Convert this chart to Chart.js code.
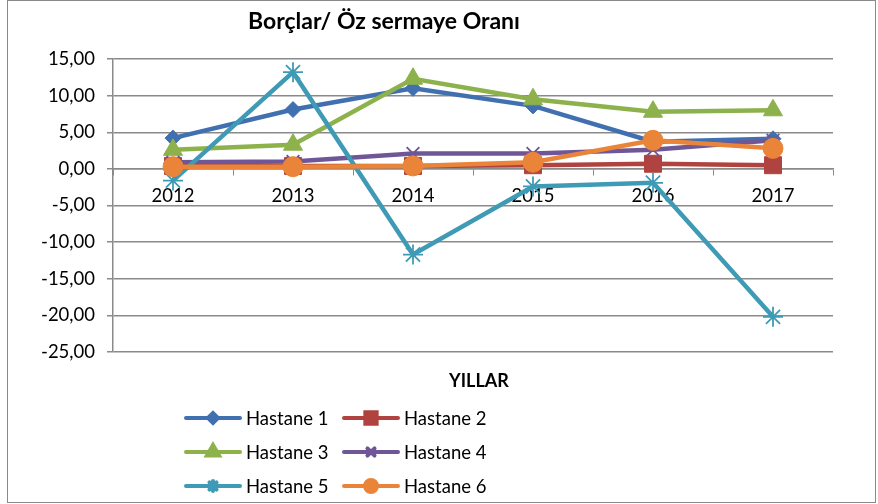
<!DOCTYPE html>
<html>
<head>
<meta charset="utf-8">
<script src="https://cdn.jsdelivr.net/npm/chart.js@4.4.0/dist/chart.umd.min.js"></script>
<style>
  html, body { margin: 0; padding: 0; background: #fff; }
  #wrap { width: 878px; height: 504px; position: relative; }
</style>
</head>
<body>
<div id="wrap"><canvas id="chart"></canvas></div>
<script>
    // Data
    const years = ["2012", "2013", "2014", "2015", "2016", "2017"];
    const seriesNames = ["Hastane 1", "Hastane 2", "Hastane 3", "Hastane 4", "Hastane 5", "Hastane 6"];
    const hastane1 = [4.2, 8.1, 11.0, 8.6, 3.7, 4.1];
    const hastane2 = [0.4, 0.4, 0.4, 0.5, 0.7, 0.5];
    const hastane3 = [2.6, 3.3, 12.3, 9.5, 7.8, 8.0];
    const hastane4 = [0.9, 1.0, 2.1, 2.1, 2.6, 3.9];
    const hastane5 = [-1.6, 13.2, -11.7, -2.4, -1.9, -20.2];
    const hastane6 = [0.3, 0.3, 0.4, 0.9, 3.9, 2.8];
    const chartTitle = "Borçlar/ Öz sermaye Oranı";
    const xTitle = "YILLAR";

    // Styles
    const FONT = "Lato, 'Open Sans', sans-serif";
    const colors = ["#4170b0", "#b0433f", "#8db24c", "#6f5696", "#3f9bb5", "#ea8439"];
    const styles = ["rectRot", "rect", "triangle", "crossRot", "star", "circle"];
    const radii = [8, 12, 11, 9, 10, 10];
    const legendRadii = [5, 8, 7, 5, 5, 6];
    const allSeries = [hastane1, hastane2, hastane3, hastane4, hastane5, hastane6];

    function fmt(v) {
      return v.toFixed(2).replace('.', ',');
    }

    const datasets = allSeries.map((data, i) => ({
      label: seriesNames[i],
      data: data,
      borderColor: colors[i],
      backgroundColor: colors[i],
      pointBackgroundColor: colors[i],
      pointBorderColor: colors[i],
      borderWidth: 4.5,
      pointStyle: styles[i],
      pointRadius: radii[i],
      pointBorderWidth: (styles[i] === "star" || styles[i] === "crossRot") ? 1.8 : 1,
      tension: 0,
      order: 6 - i
    }));

    // ===== CUSTOM DRAWING: border, title, axis title, legend ===== //
    const decorPlugin = {
      id: "decor",
      afterDraw(chart) {
        const ctx = chart.ctx;
        ctx.save();
        ctx.strokeStyle = "#8a8a8a";
        ctx.lineWidth = 1;
        ctx.strokeRect(7.5, 0.5, 868, 502);

        ctx.fillStyle = "#000";
        ctx.textAlign = "center";
        ctx.textBaseline = "middle";
        ctx.font = "bold 23px " + FONT;
        ctx.fillText(chartTitle, 384, 22);
        ctx.font = "bold 18px " + FONT;
        ctx.fillText(xTitle, 479, 381);

        chart.data.datasets.forEach((ds, i) => {
          const col = i % 2, row = Math.floor(i / 2);
          const x0 = 186 + col * 158;
          const y = 418 + row * 34;
          ctx.strokeStyle = ds.borderColor;
          ctx.lineWidth = 4;
          ctx.lineCap = "round";
          ctx.beginPath();
          ctx.moveTo(x0, y);
          ctx.lineTo(x0 + 54, y);
          ctx.stroke();
          ctx.fillStyle = ds.pointBackgroundColor;
          ctx.strokeStyle = ds.pointBorderColor;
          Chart.helpers.drawPoint(ctx, {
            pointStyle: ds.pointStyle,
            radius: legendRadii[i],
            borderWidth: ds.pointBorderWidth,
            rotation: 0
          }, x0 + 27, y);
          ctx.fillStyle = "#000";
          ctx.textAlign = "left";
          ctx.font = "18.5px " + FONT;
          ctx.fillText(ds.label, x0 + 60, y + 1);
        });
        ctx.restore();
      }
    };

    const chart = new Chart(document.getElementById("chart"), {
      type: "line",
      data: { labels: years, datasets: datasets },
      plugins: [decorPlugin],
      options: {
        responsive: true,
        maintainAspectRatio: false,
        animation: false,
        layout: { padding: { top: 59, bottom: 152, left: 0, right: 45 } },
        plugins: {
          legend: { display: false },
          title: { display: false },
          tooltip: { enabled: false }
        },
        scales: {
          x: {
            position: { y: 0 },
            offset: true,
            grid: { offset: true, drawOnChartArea: false, drawTicks: true, tickLength: 6, color: "#8a8a8a" },
            border: { color: "#8a8a8a", width: 1.5 },
            ticks: { color: "#000", font: { family: FONT, size: 18.5 }, padding: 10, maxRotation: 0 }
          },
          y: {
            min: -25,
            max: 15,
            afterFit(scale) { scale.width = 113; },
            grid: { color: "#8a8a8a", lineWidth: 1.5, tickLength: 6 },
            border: { color: "#8a8a8a", width: 1.5 },
            ticks: {
              stepSize: 5,
              color: "#000",
              padding: 12,
              font: { family: FONT, size: 18.5 },
              callback: (v) => fmt(v)
            }
          }
        }
      }
    });
</script>
</body>
</html>
